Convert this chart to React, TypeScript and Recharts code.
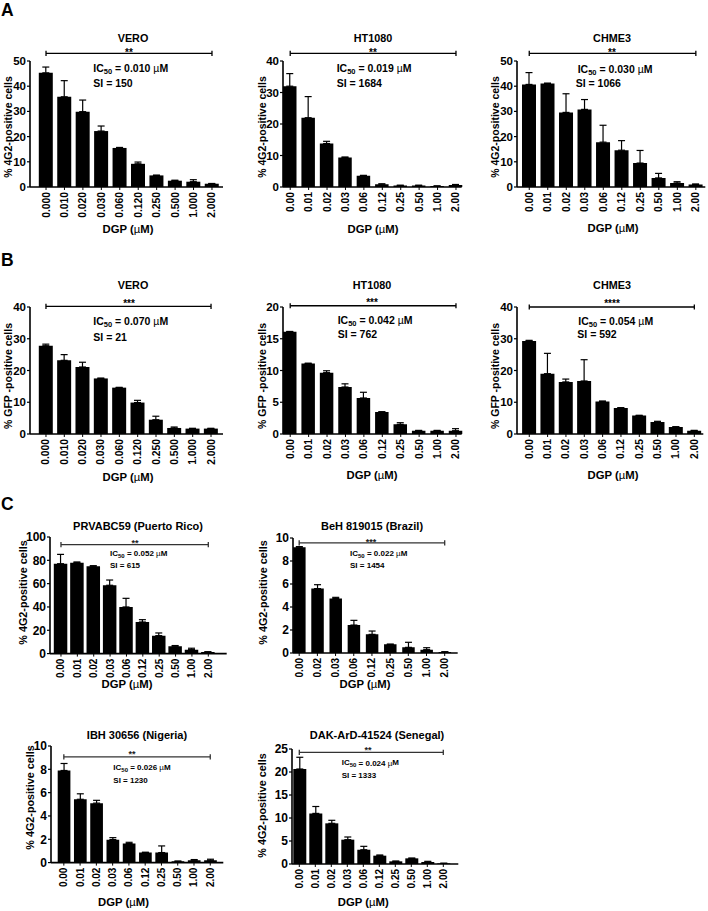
import React from 'react';
import { BarChart, Bar, XAxis, YAxis, ErrorBar, ReferenceLine } from 'recharts';

const FONT = '"Liberation Sans", Arial, Helvetica, sans-serif';

// ---------- categories ----------
const DOSES_3DP = ['0.000', '0.010', '0.020', '0.030', '0.060', '0.120', '0.250', '0.500', '1.000', '2.000'];
const DOSES_2DP = ['0.00', '0.01', '0.02', '0.03', '0.06', '0.12', '0.25', '0.50', '1.00', '2.00'];
const DOSES_BEH = ['0.00', '0.02', '0.03', '0.06', '0.12', '0.25', '0.50', '1.00', '2.00'];

// ---------- series values (mean) and upper error (SD) ----------
const VERO_4G2 = [45.3, 35.8, 29.9, 22.2, 15.5, 9.2, 4.6, 2.5, 2.1, 1.3];
const VERO_4G2_ERR = [2.3, 6.4, 4.6, 2.0, 0.2, 0.7, 0.1, 0.2, 0.8, 0.1];
const HT1080_4G2 = [32.0, 22.0, 13.8, 9.4, 3.6, 0.9, 0.5, 0.5, 0.3, 0.6];
const HT1080_4G2_ERR = [4.0, 6.7, 0.7, 0.1, 0.1, 0.1, 0.05, 0.05, 0.05, 0.2];
const CHME3_4G2 = [40.7, 41.1, 29.6, 30.8, 17.8, 14.6, 9.5, 3.6, 1.6, 1.0];
const CHME3_4G2_ERR = [4.7, 0.1, 7.4, 3.9, 6.7, 3.8, 5.0, 1.8, 0.5, 0.2];

const VERO_GFP = [27.8, 23.2, 21.1, 17.5, 14.6, 9.9, 4.5, 1.9, 1.7, 1.7];
const VERO_GFP_ERR = [0.5, 1.8, 1.5, 0.1, 0.1, 0.7, 1.1, 0.3, 0.1, 0.1];
const HT1080_GFP = [16.1, 11.1, 9.66, 7.4, 5.67, 3.46, 1.52, 0.52, 0.52, 0.52];
const HT1080_GFP_ERR = [0.05, 0.05, 0.3, 0.5, 0.9, 0.05, 0.26, 0.05, 0.05, 0.32];
const CHME3_GFP = [29.3, 19.0, 16.4, 16.7, 10.2, 8.2, 5.8, 3.8, 2.2, 1.05];
const CHME3_GFP_ERR = [0.2, 6.4, 0.9, 6.7, 0.2, 0.1, 0.1, 0.2, 0.1, 0.1];

const PRVABC59 = [77.1, 78.0, 74.9, 58.6, 40.0, 27.1, 15.4, 6.3, 3.4, 1.4];
const PRVABC59_ERR = [8.0, 0.6, 0.5, 4.5, 7.4, 2.0, 2.3, 0.6, 1.2, 0.2];
const BEH819015 = [9.2, 5.6, 4.75, 2.43, 1.62, 0.75, 0.49, 0.29, 0.09];
const BEH819015_ERR = [0.05, 0.34, 0.09, 0.41, 0.29, 0.02, 0.44, 0.17, 0.02];
const IBH30656 = [7.9, 5.43, 5.1, 1.97, 1.63, 0.86, 0.86, 0.11, 0.2, 0.2];
const IBH30656_ERR = [0.6, 0.47, 0.24, 0.17, 0.11, 0.03, 0.57, 0.02, 0.06, 0.09];
const DAK41524 = [20.65, 11.0, 8.84, 5.29, 3.1, 1.81, 0.58, 1.23, 0.43, 0.14];
const DAK41524_ERR = [2.55, 1.5, 0.66, 0.58, 0.74, 0.15, 0.05, 0.05, 0.15, 0.02];

// ---------- tick labels ----------
const TICKS_50 = [0, 10, 20, 30, 40, 50];
const TICKS_40 = [0, 10, 20, 30, 40];
const TICKS_20 = [0, 5, 10, 15, 20];
const TICKS_100 = [0, 20, 40, 60, 80, 100];
const TICKS_10 = [0, 2, 4, 6, 8, 10];
const TICKS_25 = [0, 5, 10, 15, 20, 25];

// ---------- text ----------
const LABEL_4G2 = '% 4G2-positive cells';
const LABEL_GFP = '% GFP -positive cells';

type PanelCfg = {
  title: string; doses: string[]; values: number[]; errors: number[]; ticks: number[];
  yLabel: string; stars: string; ic50: string; si: string;
  plot: { L: number; T: number; B: number; R: number; padL: number; padR: number; bar: number };
  bracket: number; small: boolean; bracketColor: string;
  titlePos: [number, number]; yLabelPos: [number, number]; xLabelPos: [number, number];
  starsPos: [number, number]; icPos: [number, number]; siPos: [number, number];
};

const PANELS: PanelCfg[] = [
  {
    title: 'VERO', doses: DOSES_3DP, values: VERO_4G2, errors: VERO_4G2_ERR, ticks: TICKS_50,
    yLabel: LABEL_4G2, stars: '**', ic50: '0.010', si: '150',
    plot: { L: 30, T: 61, B: 187, R: 223, padL: 6.8, padR: 1.8, bar: 14 }, bracket: 1.06, small: false, bracketColor: '#000',
    titlePos: [133, 37.7], yLabelPos: [8, 127], xLabelPos: [128, 229], starsPos: [129, 50], icPos: [93.3, 68.3], siPos: [93.3, 82.7],
  },
  {
    title: 'HT1080', doses: DOSES_2DP, values: HT1080_4G2, errors: HT1080_4G2_ERR, ticks: TICKS_40,
    yLabel: LABEL_4G2, stars: '**', ic50: '0.019', si: '1684',
    plot: { L: 283.3, T: 61, B: 187, R: 462, padL: -2, padR: -3.5, bar: 13.5 }, bracket: 1.06, small: false, bracketColor: '#000',
    titlePos: [373, 37.7], yLabelPos: [261.5, 127], xLabelPos: [373, 229], starsPos: [373, 50], icPos: [336.7, 68.3], siPos: [336.7, 82.7],
  },
  {
    title: 'CHME3', doses: DOSES_2DP, values: CHME3_4G2, errors: CHME3_4G2_ERR, ticks: TICKS_50,
    yLabel: LABEL_4G2, stars: '**', ic50: '0.030', si: '1066',
    plot: { L: 516.7, T: 61, B: 187, R: 705, padL: 3, padR: 0.2, bar: 14 }, bracket: 1.06, small: false, bracketColor: '#000',
    titlePos: [612, 37.7], yLabelPos: [494.5, 127], xLabelPos: [613, 228], starsPos: [612, 50], icPos: [577.7, 69], siPos: [575.7, 82.7],
  },
  {
    title: 'VERO', doses: DOSES_3DP, values: VERO_GFP, errors: VERO_GFP_ERR, ticks: TICKS_40,
    yLabel: LABEL_GFP, stars: '***', ic50: '0.070', si: '21',
    plot: { L: 30, T: 307.3, B: 434.3, R: 223, padL: 6.8, padR: 2.8, bar: 14 }, bracket: 1.005, small: false, bracketColor: '#000',
    titlePos: [133, 285], yLabelPos: [7.5, 376], xLabelPos: [128, 476.5], starsPos: [129, 301], icPos: [93.3, 320.7], siPos: [93.3, 336.5],
  },
  {
    title: 'HT1080', doses: DOSES_2DP, values: HT1080_GFP, errors: HT1080_GFP_ERR, ticks: TICKS_20,
    yLabel: LABEL_GFP, stars: '***', ic50: '0.042', si: '762',
    plot: { L: 283.3, T: 307.3, B: 434.3, R: 462, padL: -2, padR: -3.5, bar: 13.5 }, bracket: 1.01, small: false, bracketColor: '#000',
    titlePos: [372, 285], yLabelPos: [262, 376], xLabelPos: [372, 475], starsPos: [372, 300.5], icPos: [337.7, 320], siPos: [337.7, 334.3],
  },
  {
    title: 'CHME3', doses: DOSES_2DP, values: CHME3_GFP, errors: CHME3_GFP_ERR, ticks: TICKS_40,
    yLabel: LABEL_GFP, stars: '****', ic50: '0.054', si: '592',
    plot: { L: 516.7, T: 307.3, B: 434.3, R: 703, padL: 3.1, padR: -0.2, bar: 14 }, bracket: 1.0, small: false, bracketColor: '#000',
    titlePos: [612, 284.5], yLabelPos: [494.5, 376], xLabelPos: [613, 475], starsPos: [612, 301], icPos: [578.3, 320.7], siPos: [577.3, 334.3],
  },
  {
    title: 'PRVABC59 (Puerto Rico)', doses: DOSES_2DP, values: PRVABC59, errors: PRVABC59_ERR, ticks: TICKS_100,
    yLabel: LABEL_4G2, stars: '**', ic50: '0.052', si: '615',
    plot: { L: 50, T: 536.7, B: 653.3, R: 226.7, padL: 2.8, padR: 10.2, bar: 13.5 }, bracket: 0.935, small: true, bracketColor: '#333',
    titlePos: [138, 525.7], yLabelPos: [22.7, 592.5], xLabelPos: [127, 684], starsPos: [135, 541], icPos: [110, 553.3], siPos: [110, 565],
  },
  {
    title: 'BeH 819015 (Brazil)', doses: DOSES_BEH, values: BEH819015, errors: BEH819015_ERR, ticks: TICKS_10,
    yLabel: LABEL_4G2, stars: '***', ic50: '0.022', si: '1454',
    plot: { L: 293.3, T: 538.3, B: 653.3, R: 458, padL: -2.9, padR: 3.9, bar: 12.5 }, bracket: 0.957, small: true, bracketColor: '#333',
    titlePos: [372, 525.7], yLabelPos: [262.7, 592.5], xLabelPos: [365, 684], starsPos: [371, 540], icPos: [350, 553.3], siPos: [350, 565],
  },
  {
    title: 'IBH 30656 (Nigeria)', doses: DOSES_2DP, values: IBH30656, errors: IBH30656_ERR, ticks: TICKS_10,
    yLabel: LABEL_4G2, stars: '**', ic50: '0.026', si: '1230',
    plot: { L: 50.7, T: 745.7, B: 862.3, R: 223, padL: 4.7, padR: 4.9, bar: 12.7 }, bracket: 0.906, small: true, bracketColor: '#333',
    titlePos: [137, 735], yLabelPos: [29.5, 797.5], xLabelPos: [123.5, 901.7], starsPos: [132, 752.5], icPos: [113.3, 767.3], siPos: [113.3, 780],
  },
  {
    title: 'DAK-ArD-41524 (Senegal)', doses: DOSES_2DP, values: DAK41524, errors: DAK41524_ERR, ticks: TICKS_25,
    yLabel: LABEL_4G2, stars: '**', ic50: '0.024', si: '1333',
    plot: { L: 291.7, T: 749.3, B: 864.3, R: 458, padL: -0.7, padR: 7, bar: 13 }, bracket: 0.97, small: true, bracketColor: '#333',
    titlePos: [377, 735], yLabelPos: [261.7, 805.5], xLabelPos: [363.3, 901.7], starsPos: [368, 747.7], icPos: [341.7, 762.7], siPos: [341.7, 775],
  },
];

const XTick = (props: any) => {
  const { x, y, payload, fs } = props;
  return (
    <text
      transform={`translate(${x},${y}) rotate(-90)`}
      textAnchor="end"
      dominantBaseline="central"
      fontSize={fs}
      fontWeight="bold"
      fontFamily={FONT}
      fill="#000"
    >
      {payload.value}
    </text>
  );
};

function Panel({ p }: { p: PanelCfg }) {
  const data = p.doses.map((d, i) => ({ dose: d, value: p.values[i], err: [0, p.errors[i]] }));
  const yMax = p.ticks[p.ticks.length - 1];
  const { L, T, B, R, padL, padR, bar } = p.plot;
  const padTop = 16;
  const yW = 44;
  const xH = 44;
  const padRight = 4;
  const width = yW + (R - L) + padRight;
  const height = padTop + (B - T) + xH;
  const plotH = B - T;
  const by = yMax * p.bracket;
  const cap = (yMax * 2.6) / plotH;
  const first = p.doses[0];
  const last = p.doses[p.doses.length - 1];
  const axisStyle = { stroke: '#000', strokeWidth: 1.6 };
  const xFs = p.small ? 10 : 10.3;
  const yFs = p.small ? 12 : 11.5;
  return (
    <div style={{ position: 'absolute', left: L - yW, top: T - padTop }}>
      <BarChart
        width={width}
        height={height}
        data={data}
        margin={{ top: padTop, right: padRight, bottom: 0, left: 0 }}
      >
        <XAxis
          dataKey="dose"
          type="category"
          interval={0}
          height={xH}
          padding={{ left: padL, right: padR }}
          tick={(tp: any) => <XTick {...tp} fs={xFs} />}
          tickSize={3}
          tickMargin={2}
          axisLine={axisStyle}
          tickLine={{ stroke: '#000', strokeWidth: 1 }}
        />
        <YAxis
          type="number"
          domain={[0, yMax]}
          ticks={p.ticks}
          interval={0}
          width={yW}
          tickSize={3}
          tickMargin={1}
          allowDataOverflow
          tick={{ fontSize: yFs, fontWeight: 'bold', fill: '#000', fontFamily: FONT }}
          axisLine={axisStyle}
          tickLine={{ stroke: '#000', strokeWidth: 1.2 }}
        />
        <Bar dataKey="value" fill="#000" barSize={bar} isAnimationActive={false}>
          <ErrorBar dataKey="err" width={3.5} stroke="#000" strokeWidth={1.2} direction="y" isAnimationActive={false} />
        </Bar>
        <ReferenceLine
          segment={[{ x: first, y: by }, { x: last, y: by }]}
          stroke={p.bracketColor}
          strokeWidth={1.3}
          ifOverflow="visible"
        />
        <ReferenceLine
          segment={[{ x: first, y: by - cap }, { x: first, y: by + cap }]}
          stroke={p.bracketColor}
          strokeWidth={1.3}
          ifOverflow="visible"
        />
        <ReferenceLine
          segment={[{ x: last, y: by - cap }, { x: last, y: by + cap }]}
          stroke={p.bracketColor}
          strokeWidth={1.3}
          ifOverflow="visible"
        />
      </BarChart>
    </div>
  );
}

function PanelText({ p }: { p: PanelCfg }) {
  const infoSize = p.small ? 8 : 10.5;
  const subSize = p.small ? 6 : 7.5;
  const starSize = p.small ? 9 : 10;
  const common = { fontFamily: FONT, fontWeight: 'bold' as const, fill: '#000' };
  return (
    <g>
      <text x={p.titlePos[0]} y={p.titlePos[1]} textAnchor="middle" dominantBaseline="central" fontSize={p.small ? 11 : 10.8} {...common}>
        {p.title}
      </text>
      <text
        transform={`translate(${p.yLabelPos[0]},${p.yLabelPos[1]}) rotate(-90)`}
        textAnchor="middle"
        dominantBaseline="central"
        fontSize={p.small ? 10.8 : 10.5}
        {...common}
      >
        {p.yLabel}
      </text>
      <text x={p.xLabelPos[0]} y={p.xLabelPos[1]} textAnchor="middle" dominantBaseline="central" fontSize={11.3} {...common}>
        DGP (<tspan fontWeight="normal">µ</tspan>M)
      </text>
      <text x={p.starsPos[0]} y={p.starsPos[1] + starSize * 0.55} textAnchor="middle" fontSize={starSize} {...common} fill={p.small ? '#222' : '#000'}>
        {p.stars}
      </text>
      <text x={p.icPos[0]} y={p.icPos[1]} dominantBaseline="central" fontSize={infoSize} {...common}>
        IC<tspan fontSize={subSize} dy={infoSize * 0.3}>50</tspan>
        <tspan dy={-infoSize * 0.3}>{` = ${p.ic50} `}</tspan>
        <tspan fontWeight="normal">µ</tspan>M
      </text>
      <text x={p.siPos[0]} y={p.siPos[1]} dominantBaseline="central" fontSize={infoSize} {...common}>
        {`SI = ${p.si}`}
      </text>
    </g>
  );
}

export default function App() {
  return (
    <div style={{ position: 'absolute', left: 0, top: 0, width: 708, height: 911, background: '#fff', overflow: 'hidden' }}>
      {PANELS.map((p, i) => (
        <Panel key={i} p={p} />
      ))}
      <svg width={708} height={911} style={{ position: 'absolute', left: 0, top: 0, pointerEvents: 'none' }}>
        <text x={1} y={16} fontSize={17.5} fontWeight="bold" fontFamily={FONT} fill="#000">A</text>
        <text x={1} y={266} fontSize={17.5} fontWeight="bold" fontFamily={FONT} fill="#000">B</text>
        <text x={1} y={510} fontSize={17.5} fontWeight="bold" fontFamily={FONT} fill="#000">C</text>
        {PANELS.map((p, i) => (
          <PanelText key={i} p={p} />
        ))}
      </svg>
    </div>
  );
}
